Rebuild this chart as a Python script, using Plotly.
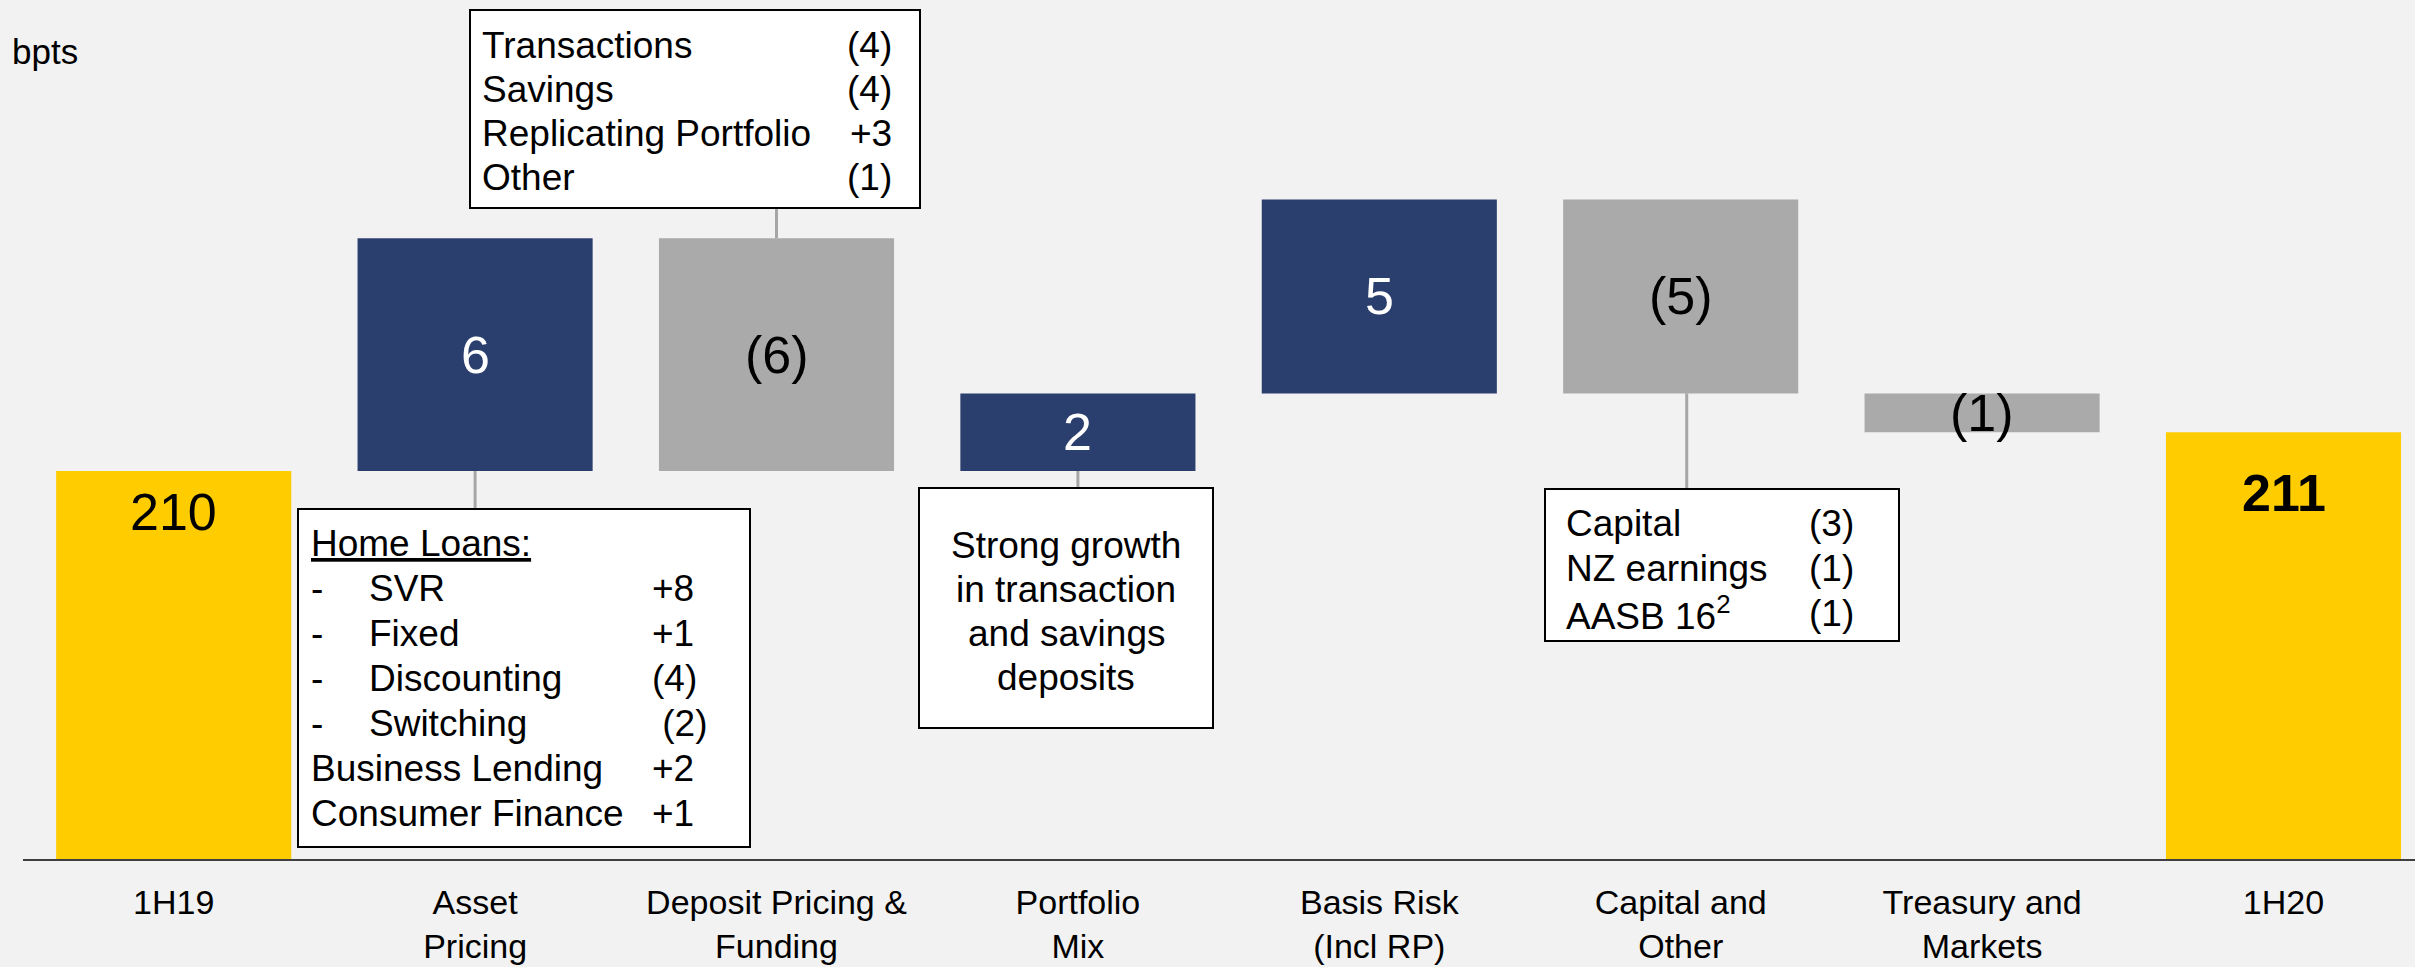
#!/usr/bin/env python3
"""NIM waterfall 1H19 -> 1H20 (bpts) with driver call-out boxes."""

import plotly.graph_objects as go

# ---- data -------------------------------------------------------------
categories = [
    "1H19",
    "Asset<br>Pricing",
    "Deposit Pricing &<br>Funding",
    "Portfolio<br>Mix",
    "Basis Risk<br>(Incl RP)",
    "Capital and<br>Other",
    "Treasury and<br>Markets",
    "1H20",
]
measures = ["absolute", "relative", "relative", "relative",
            "relative", "relative", "relative", "total"]
values = [210, 6, -6, 2, 5, -5, -1, 211]

asset_items = ["<u>Home Loans:</u>", "SVR", "Fixed", "Discounting", "Switching",
               "Business Lending", "Consumer Finance"]
asset_dash = [False, True, True, True, True, False, False]
asset_vals = ["", "+8", "+1", "(4)", " (2)", "+2", "+1"]

deposit_items = ["Transactions", "Savings", "Replicating Portfolio", "Other"]
deposit_vals = ["(4)", "(4)", "+3", "(1)"]

portfolio_note = ["Strong growth", "in transaction", "and savings", "deposits"]

capital_items = ["Capital", "NZ earnings", "AASB 16<sup>2</sup>"]
capital_vals = ["(3)", "(1)", "(1)"]

# ---- style ------------------------------------------------------------
NAVY = "#2B3F6E"
GREY = "#AAAAAB"
YELLOW = "#FFCC00"
BG = "#F2F2F2"
LINK = "#A6A6A6"
FONT = "Liberation Sans, Arial, sans-serif"

W, H = 2415, 967
PLOT_L, PLOT_B = 23, 859      # pixel of plot left edge / baseline
X_UNIT, Y_UNIT = 301.4, 38.8  # pixels per category / per bpt
Y_BASE = 200


def px_x(p):
    return -0.5 + (p - PLOT_L) / X_UNIT


def px_y(p):
    return Y_BASE + (PLOT_B - p) / Y_UNIT


def fmt(v):
    return f"({abs(v)})" if v < 0 else f"{v}"


fig = go.Figure()
fig.add_trace(go.Waterfall(
    x=list(range(len(categories))),
    y=values,
    measure=measures,
    width=0.78,
    connector=dict(visible=False),
    increasing=dict(marker=dict(color=NAVY, line=dict(width=0))),
    decreasing=dict(marker=dict(color=GREY, line=dict(width=0))),
    totals=dict(marker=dict(color=YELLOW, line=dict(width=0))),
    hoverinfo="skip",
    showlegend=False,
))

# bar labels
running = 0
tops, bottoms = [], []
for i, (m, v) in enumerate(zip(measures, values)):
    if m == "absolute":
        lo, hi = 0, v
        running = v
    elif m == "total":
        lo, hi = 0, running
    else:
        lo, hi = sorted([running, running + v])
        running += v
    tops.append(hi)
    bottoms.append(lo)
    if m == "relative":
        fig.add_annotation(
            x=i, y=(lo + hi) / 2, text=fmt(v), showarrow=False,
            font=dict(family=FONT, size=52, color="white" if v > 0 else "black"),
        )
fig.add_annotation(x=0, y=tops[0], yshift=-41, text=str(tops[0]), showarrow=False,
                   font=dict(family=FONT, size=52, color="black"))
fig.add_annotation(x=7, y=tops[7], yshift=-61, text=f"<b>{tops[7]}</b>", showarrow=False,
                   font=dict(family=FONT, size=52, color="black"))


def box(x0, y0, x1, y1):
    fig.add_shape(type="rect", xref="x", yref="y",
                  x0=px_x(x0), x1=px_x(x1), y0=px_y(y1), y1=px_y(y0),
                  line=dict(color="black", width=2), fillcolor="white", layer="above")


def link(i, y_from, y_to_px, dx=0.0):
    fig.add_shape(type="line", xref="x", yref="y", x0=i + dx, x1=i + dx,
                  y0=y_from, y1=px_y(y_to_px),
                  line=dict(color=LINK, width=3), layer="below")


def txt(x, y, s, anchor="left", size=37):
    fig.add_annotation(x=px_x(x), y=px_y(y), text=s, showarrow=False,
                       xanchor=anchor, yanchor="middle",
                       font=dict(family=FONT, size=size, color="black"))


# Asset pricing call-out (below bar)
link(1, bottoms[1], 509)
box(298, 509, 750, 847)
for k, (lab, dash, val) in enumerate(zip(asset_items, asset_dash, asset_vals)):
    yy = 543 + 45 * k
    if dash:
        txt(309, yy, "-")
        txt(367, yy, lab)
    else:
        txt(309, yy, lab)
    if val:
        txt(650, yy, val)

# Deposit pricing call-out (above bar)
link(2, tops[2], 208)
box(470, 10, 920, 208)
for k, (lab, val) in enumerate(zip(deposit_items, deposit_vals)):
    yy = 45 + 44.3 * k
    txt(480, yy, lab)
    txt(894, yy, val, anchor="right")

# Portfolio mix note
link(3, bottoms[3], 488)
box(919, 488, 1213, 728)
for k, line in enumerate(portfolio_note):
    txt(1066, 545 + 44 * k, line, anchor="center")

# Capital and other call-out
link(5, bottoms[5], 489, dx=0.02)
box(1545, 489, 1899, 641)
for k, (lab, val) in enumerate(zip(capital_items, capital_vals)):
    yy = 523 + 45 * k
    txt(1564, yy, lab)
    txt(1856, yy, val, anchor="right")

# unit label, top-left (paper coords so it is not hidden outside the x range)
fig.add_annotation(xref="paper", yref="paper",
                   x=(10 - PLOT_L) / (W - PLOT_L), y=(PLOT_B - 52) / PLOT_B,
                   text="bpts", showarrow=False, xanchor="left", yanchor="middle",
                   font=dict(family=FONT, size=35, color="black"))

fig.update_layout(
    width=W, height=H,
    margin=dict(l=PLOT_L, r=0, t=0, b=H - PLOT_B),
    paper_bgcolor=BG, plot_bgcolor=BG,
    font=dict(family=FONT, size=35, color="black"),
    showlegend=False,
)
fig.update_xaxes(
    range=[-0.5, px_x(W)], tickvals=list(range(len(categories))), ticktext=categories,
    showgrid=False, zeroline=False, showline=True, linecolor="#404040", linewidth=2,
    ticks="", ticklabelstandoff=12, automargin=False,
    tickfont=dict(family=FONT, size=34, color="black"),
)
fig.update_yaxes(range=[Y_BASE, px_y(0)], visible=False, showgrid=False,
                 automargin=False)

fig.write_html(
    "out.html",
    config={"displayModeBar": False},
    post_script="document.body.style.margin='0';document.body.style.overflow='hidden';",
)
